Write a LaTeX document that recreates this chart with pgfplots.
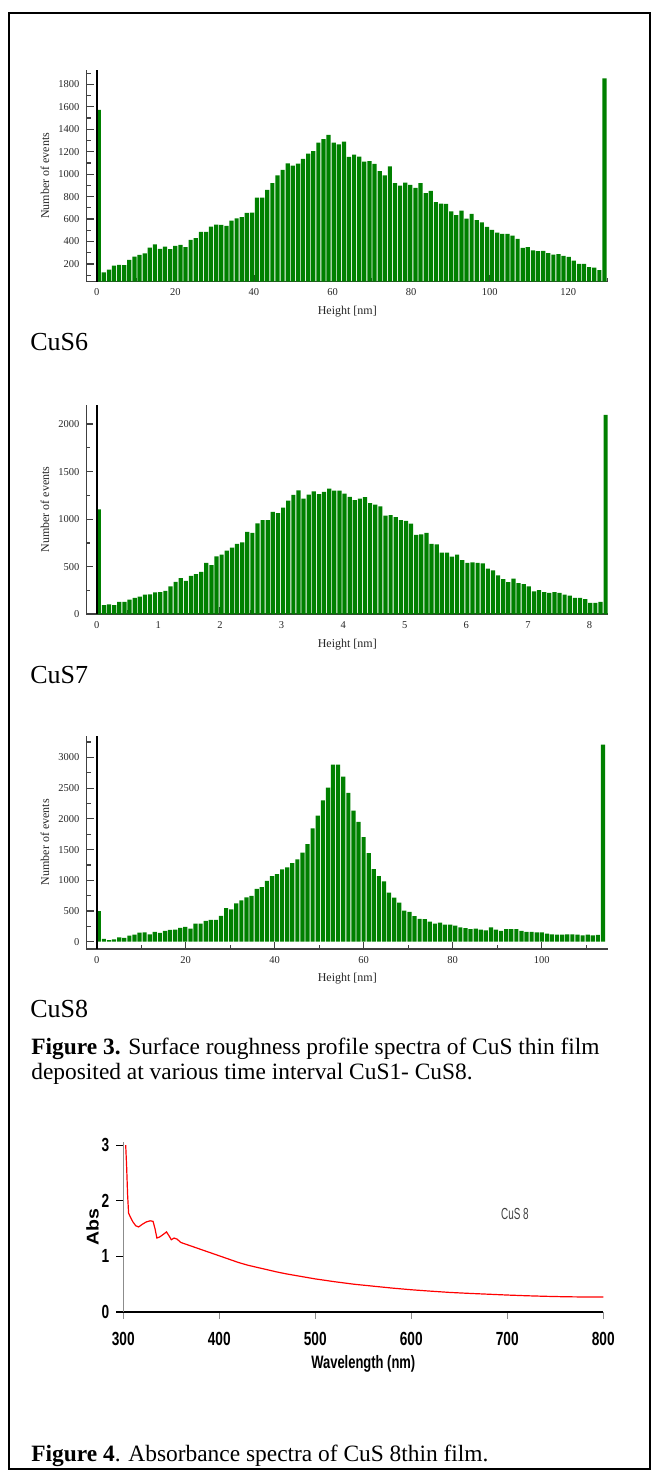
\documentclass[border=0pt]{standalone}
\usepackage{fontspec}
\setmainfont{Liberation Serif}
\newfontfamily\narrowsans[FakeStretch=0.72]{Liberation Sans}
\newfontfamily\widesans[FakeStretch=1.15]{Liberation Sans}
\newfontfamily\thinsans[FakeStretch=0.62]{Liberation Sans}
\usepackage{pgfplots}
\pgfplotsset{compat=1.18}

\definecolor{bargreen}{RGB}{0,128,0}

% 1 px of the reference = 0.5pt
\pgfplotsset{
  hist/.style={
    anchor=south west, scale only axis, width=260.75pt,
    axis x line*=bottom, axis y line*=left,
    axis line style={black!75, line width=0.8pt},
    tick align=inside, major tick length=3.5pt, minor tick length=2pt,
    tick style={black!75, line width=0.6pt},
    /pgf/number format/assume math mode=true,
    /pgf/number format/1000 sep={},
    tick label style={font=\fontsize{5.25}{6}\selectfont, black!85},
    label style={font=\fontsize{6}{7}\selectfont, black!85},
    xlabel={Height [nm]}, ylabel={Number of events},
    xlabel style={at={(axis description cs:0.5,0)}, anchor=center, yshift=-15pt},
    ylabel style={at={(axis description cs:-0.0797,0.5)}, anchor=center},
    clip=true,
  },
  bars/.style={ybar, fill=bargreen, draw=none},
}

\begin{document}
\begin{tikzpicture}
\useasboundingbox (0,0) rectangle (325.5pt,735pt);
\draw[line width=1pt] (4.65pt,0.5pt) rectangle (324.9pt,728.35pt);

% ---- CuS6
\begin{axis}[hist, at={(43.25pt,594.15pt)}, height=105.85pt,
  xmin=-2.6, xmax=130.1, ymin=42, ymax=1928,
  xtick={0,20,...,120}, minor xtick={10,30,...,130},
  ytick={200,400,...,1800}, minor ytick={100,300,...,1900}]
\addplot[bars, bar width=1.07] coordinates {
(0.5,1572) (1.8,125) (3.1,150) (4.4,185) (5.7,192) (7.0,190) (8.3,236) (9.6,266) (10.9,280) (12.2,295)
(13.5,346) (14.8,375) (16.1,334) (17.4,355) (18.7,331) (20.0,361) (21.3,370) (22.6,349) (23.9,414) (25.2,429)
(26.5,486) (27.8,486) (29.1,533) (30.4,551) (31.7,548) (33.0,539) (34.3,587) (35.6,607) (36.9,616) (38.2,655)
(39.5,658) (40.8,791) (42.1,791) (43.4,859) (44.7,919) (46.0,990) (47.3,1037) (48.6,1097) (49.9,1076) (51.2,1094)
(52.5,1135) (53.8,1183) (55.1,1204) (56.4,1281) (57.7,1313) (59.0,1349) (60.3,1281) (61.6,1266) (62.9,1290) (64.2,1153)
(65.5,1174) (66.8,1156) (68.1,1112) (69.4,1115) (70.7,1091) (72.0,1028) (73.3,990) (74.6,1070) (75.9,919) (77.2,898)
(78.5,925) (79.8,904) (81.1,877) (82.4,919) (83.7,830) (85.0,850) (86.3,750) (87.6,738) (88.9,735) (90.2,669)
(91.5,634) (92.8,675) (94.1,604) (95.4,645) (96.7,590) (98.0,571) (99.3,530) (100.6,503) (101.9,479) (103.2,468)
(104.5,468) (105.8,453) (107.1,423) (108.4,343) (109.7,349) (111.0,322) (112.3,314) (113.6,317) (114.9,296) (116.2,284)
(117.5,287) (118.8,272) (120.1,263) (121.4,230) (122.7,200) (124.0,200) (125.3,171) (126.6,168) (127.9,144) (129.2,1853)
};
\draw[black, line width=1pt] (axis cs:0,42) -- (axis cs:0,1928);
\end{axis}
\node[anchor=base west, inner sep=0pt, font=\fontsize{13}{15}\selectfont] at (15pt,559.5pt) {CuS6};

% ---- CuS7
\begin{axis}[hist, at={(43.25pt,427.85pt)}, height=104.65pt,
  xmin=-0.166, xmax=8.3, ymin=0, ymax=2200,
  xtick={0,1,...,8}, minor xtick={0.5,1.5,...,7.5},
  ytick={0,500,...,2000}, minor ytick={250,750,...,2250}]
\addplot[bars, bar width=0.068] coordinates {
(0.034,1103) (0.117,97) (0.200,103) (0.283,97) (0.366,131) (0.450,131) (0.533,155) (0.616,172) (0.699,186) (0.782,207)
(0.865,210) (0.948,231) (1.031,234) (1.114,245) (1.197,293) (1.281,341) (1.364,379) (1.447,352) (1.530,403) (1.613,421)
(1.696,445) (1.779,541) (1.862,517) (1.945,610) (2.028,628) (2.112,669) (2.195,700) (2.278,741) (2.361,755) (2.444,865)
(2.527,855) (2.610,955) (2.693,990) (2.776,990) (2.859,1076) (2.943,1062) (3.026,1121) (3.109,1196) (3.192,1255) (3.275,1303)
(3.358,1217) (3.441,1259) (3.524,1293) (3.607,1262) (3.690,1286) (3.774,1321) (3.857,1300) (3.940,1300) (4.023,1269) (4.106,1234)
(4.189,1200) (4.272,1217) (4.355,1231) (4.438,1169) (4.521,1152) (4.605,1134) (4.688,1038) (4.771,1041) (4.854,1021) (4.937,990)
(5.020,983) (5.103,952) (5.186,834) (5.269,841) (5.352,855) (5.436,741) (5.519,734) (5.602,648) (5.685,648) (5.768,607)
(5.851,628) (5.934,569) (6.017,541) (6.100,545) (6.183,541) (6.267,534) (6.350,479) (6.433,462) (6.516,410) (6.599,369)
(6.682,338) (6.765,376) (6.848,328) (6.931,317) (7.014,293) (7.098,241) (7.181,255) (7.264,234) (7.347,224) (7.430,234)
(7.513,224) (7.596,207) (7.679,197) (7.762,172) (7.845,172) (7.929,159) (8.012,121) (8.095,121) (8.178,131) (8.261,2096)
};
\draw[black, line width=1pt] (axis cs:0,0) -- (axis cs:0,2200);
\end{axis}
\node[anchor=base west, inner sep=0pt, font=\fontsize{13}{15}\selectfont] at (15pt,393.35pt) {CuS7};

% ---- CuS8
\begin{axis}[hist, at={(43.25pt,260.5pt)}, height=106.7pt,
  xmin=-2.29, xmax=114.9, ymin=-119, ymax=3356,
  xtick={0,20,...,100}, minor xtick={10,30,...,110},
  ytick={0,500,...,3000}, minor ytick={250,750,...,3250}]
\addplot[bars, bar width=0.94] coordinates {
(0.47,498) (1.61,44) (2.76,27) (3.90,38) (5.05,71) (6.19,60) (7.34,99) (8.48,115) (9.63,148) (10.77,153)
(11.91,120) (13.06,159) (14.20,142) (15.35,175) (16.49,192) (17.64,197) (18.78,224) (19.92,241) (21.07,213) (22.21,296)
(23.36,296) (24.50,339) (25.65,356) (26.79,356) (27.94,422) (29.08,547) (30.22,525) (31.37,624) (32.51,673) (33.66,723)
(34.80,744) (35.95,859) (37.09,887) (38.24,991) (39.38,1067) (40.52,1100) (41.67,1177) (42.81,1210) (43.96,1281) (45.10,1341)
(46.25,1451) (47.39,1587) (48.53,1845) (49.68,2053) (50.82,2299) (51.97,2507) (53.11,2885) (54.26,2885) (55.40,2688) (56.55,2425)
(57.69,2135) (58.83,1949) (59.98,1702) (61.12,1440) (62.27,1182) (63.41,1067) (64.56,980) (65.70,799) (66.85,717) (67.99,635)
(69.13,504) (70.28,487) (71.42,416) (72.57,372) (73.71,367) (74.86,328) (76.00,296) (77.14,312) (78.29,279) (79.43,279)
(80.58,263) (81.72,235) (82.87,219) (84.01,203) (85.16,213) (86.30,197) (87.44,186) (88.59,235) (89.73,197) (90.88,175)
(92.02,203) (93.17,203) (94.31,203) (95.46,175) (96.60,159) (97.74,159) (98.89,153) (100.03,153) (101.18,131) (102.32,120)
(103.47,115) (104.61,115) (105.75,120) (106.90,120) (108.04,115) (109.19,104) (110.33,115) (111.48,104) (112.62,109) (113.77,3208)
};
\draw[black, line width=1pt] (axis cs:0,-119) -- (axis cs:0,3356);
\end{axis}
\node[anchor=base west, inner sep=0pt, font=\fontsize{13}{15}\selectfont] at (15pt,226pt) {CuS8};

\node[anchor=base west, inner sep=0pt, font=\fontsize{11.7}{14}\selectfont] at (15.5pt,207.5pt)
  {\textbf{Figure 3.} Surface roughness profile spectra of CuS thin film};
\node[anchor=base west, inner sep=0pt, font=\fontsize{11.7}{14}\selectfont] at (15.5pt,195pt)
  {deposited at various time interval CuS1- CuS8.};

% ---- Absorbance
\begin{axis}[at={(61.65pt,79pt)}, anchor=south west, scale only axis,
  width=240pt, height=84.8pt,
  xmin=300, xmax=800, ymin=0, ymax=3.05,
  axis x line*=bottom, axis y line*=left,
  x axis line style={black, line width=0.7pt},
  y axis line style={black!45, line width=0.6pt},
  tick align=outside, major tick length=3.5pt,
  xtick={300,400,...,800}, ytick={0,1,2,3},
  xtick style={black!45, line width=0.6pt}, ytick style={black, line width=0.6pt},
  /pgf/number format/assume math mode=true,
  tick label style={font=\narrowsans\bfseries\fontsize{9.5}{10}\selectfont},
  xticklabel style={yshift=-3pt},
  xlabel={Wavelength (nm)},
  xlabel style={font=\narrowsans\bfseries\fontsize{9}{10}\selectfont,
    at={(axis description cs:0.5,0)}, anchor=center, yshift=-26pt},
  ylabel={Abs},
  ylabel style={font=\widesans\bfseries\fontsize{8.5}{9}\selectfont,
    at={(axis description cs:-0.064,0.5)}, anchor=center},
  clip=false]
\addplot[red, line width=0.6pt] coordinates {
(302.5,3.0) (303.5,2.6) (304.5,2.1) (305.5,1.78) (307,1.72) (310,1.62) (313,1.55) (316,1.53)
(320,1.58) (324,1.62) (328,1.64) (331,1.63) (333,1.5) (335,1.33) (338,1.35) (342,1.40) (345,1.44)
(348,1.36) (350,1.30) (353,1.33) (356,1.31) (360,1.25) (370,1.19) (380,1.13) (390,1.07) (400,1.01)
(410,0.95) (420,0.89) (430,0.84) (440,0.80) (450,0.76) (460,0.72) (470,0.685) (480,0.655) (490,0.625)
(500,0.595) (520,0.545) (540,0.50) (560,0.465) (580,0.43) (600,0.40) (620,0.375) (640,0.352)
(660,0.335) (680,0.32) (700,0.305) (720,0.292) (740,0.282) (760,0.274) (780,0.27) (800,0.268)
};
\node[font=\thinsans\fontsize{8}{9}\selectfont, text=black!75] at (axis cs:708,1.76) {CuS 8};
\end{axis}

\node[anchor=base west, inner sep=0pt, font=\fontsize{11.7}{14}\selectfont] at (15.5pt,4.15pt)
  {\textbf{Figure 4}. Absorbance spectra of CuS 8thin film.};
\end{tikzpicture}
\end{document}
